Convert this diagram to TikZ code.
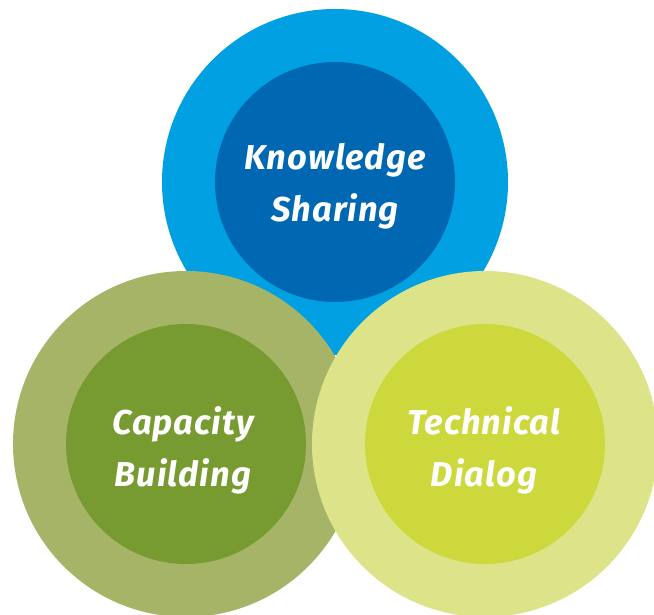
\documentclass[tikz,border=0pt]{standalone}
\usepackage{fontspec}
\setmainfont{Fira Sans}[LetterSpace=3]
\definecolor{blueOuter}{HTML}{00A0E2}
\definecolor{blueInner}{HTML}{0068B2}
\definecolor{oliveOuter}{HTML}{A6B468}
\definecolor{oliveInner}{HTML}{789B31}
\definecolor{limeOuter}{HTML}{DDE389}
\definecolor{limeInner}{HTML}{CDD83C}
\tikzset{
  outerdisc/.style={circle, inner sep=0pt, minimum size=346pt},
  innerdisc/.style={circle, inner sep=0pt, minimum size=240pt},
  label text/.style={text=white, align=center, font=\fontsize{34.5}{52}\selectfont\bfseries\itshape}
}
\begin{document}
\begin{tikzpicture}[x=1pt,y=-1pt]
\useasboundingbox (0,0) rectangle (654,615);
\clip (0,0) rectangle (654,615);
\node[outerdisc, fill=blueOuter] (ksOuter) at (335,182) {};
\node[innerdisc, fill=blueInner] (ksInner) at (335,182) {};
\node[outerdisc, fill=oliveOuter] (cbOuter) at (186,444) {};
\node[innerdisc, fill=oliveInner] (cbInner) at (186,444) {};
\node[outerdisc, fill=limeOuter] (tdOuter) at (485,444) {};
\node[innerdisc, fill=limeInner] (tdInner) at (485,444) {};
\node[label text] (ksText) at (335,186) {Knowledge\\Sharing};
\node[label text] (cbText) at (183,450) {Capacity\\Building};
\node[label text] (tdText) at (484,450) {Technical\\Dialog};
\end{tikzpicture}
\end{document}
